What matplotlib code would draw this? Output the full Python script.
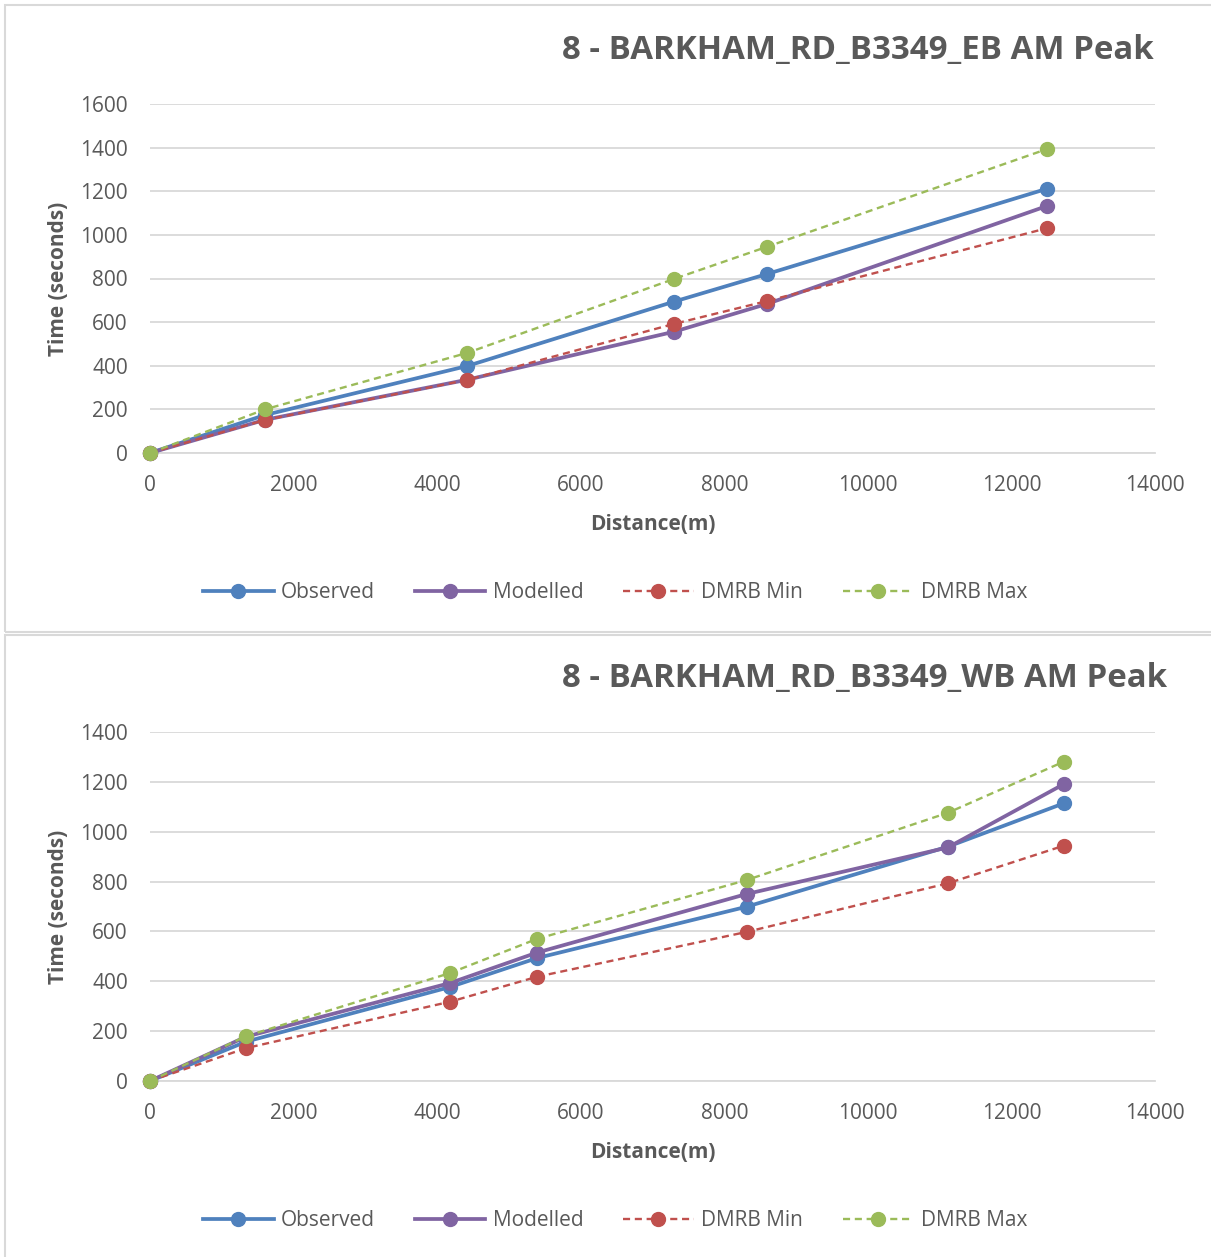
# Journey time comparison - Barkham Rd B3349, AM peak
import numpy as np
import matplotlib.pyplot as plt
from matplotlib.patches import Rectangle

# EB data
ebDist = [0, 1600, 4420, 7300, 8600, 12500]
ebObserved = [0, 174, 399, 694, 821, 1212]
ebModelled = [0, 152, 336, 556, 684, 1133]
ebMin = [0, 151, 335, 592, 697, 1031]
ebMax = [0, 200, 459, 798, 946, 1394]

# WB data
wbDist = [0, 1340, 4180, 5390, 8310, 11115, 12730]
wbObserved = [0, 158, 377, 493, 699, 940, 1114]
wbModelled = [0, 178, 393, 515, 750, 937, 1191]
wbMin = [0, 132, 318, 418, 598, 793, 944]
wbMax = [0, 180, 433, 570, 806, 1076, 1281]

titles = ["8 - BARKHAM_RD_B3349_EB AM Peak", "8 - BARKHAM_RD_B3349_WB AM Peak"]
seriesNames = ["Observed", "Modelled", "DMRB Min", "DMRB Max"]
colours = ["#4F81BD", "#8064A2", "#C0504D", "#9BBB59"]

plt.rcParams['font.family'] = ['Open Sans', 'DejaVu Sans']
textCol = "#595959"
W, H = 1211, 1257

fig = plt.figure(figsize=(W/100, H/100), dpi=100)

# chart borders
fig.patches.append(Rectangle((5/W, 1-632/H), 1.2, 627/H, transform=fig.transFigure,
                             fill=False, edgecolor="#d9d9d9", lw=1.5))
fig.patches.append(Rectangle((5/W, -0.1), 1.2, 0.1+(1-635/H), transform=fig.transFigure,
                             fill=False, edgecolor="#d9d9d9", lw=1.5))

panels = [
    dict(rect=[150/W, 1-453/H, 1005/W, 349/H], ymax=1600, titleY=51, legY=593,
         x=ebDist, data=[ebObserved, ebModelled, ebMin, ebMax], title=titles[0]),
    dict(rect=[150/W, 1-1081/H, 1005/W, 349/H], ymax=1400, titleY=679, legY=1221,
         x=wbDist, data=[wbObserved, wbModelled, wbMin, wbMax], title=titles[1]),
]

for p in panels:
    ax = fig.add_axes(p["rect"])
    for i in range(4):
        if i < 2:
            ax.plot(p["x"], p["data"][i], '-', color=colours[i], lw=2.7, marker='o',
                    markersize=10, label=seriesNames[i], zorder=3, clip_on=False)
        else:
            ax.plot(p["x"], p["data"][i], '--', color=colours[i], lw=1.7, dashes=(3, 2),
                    marker='o', markersize=10, label=seriesNames[i], zorder=3, clip_on=False)
    ax.set_xlim(0, 14000)
    ax.set_ylim(0, p["ymax"])
    ax.set_xticks(np.arange(0, 14001, 2000))
    ax.set_yticks(np.arange(0, p["ymax"]+1, 200))
    ax.grid(axis='y', color="#d9d9d9", lw=1.3)
    ax.set_axisbelow(True)
    for s in ["top", "right", "left"]:
        ax.spines[s].set_visible(False)
    ax.spines["bottom"].set_color("#d9d9d9")
    ax.spines["bottom"].set_linewidth(1.3)
    ax.tick_params(length=0, labelsize=15, labelcolor=textCol, pad=16)
    ax.set_xlabel("Distance(m)", fontsize=15, fontweight='bold', color=textCol, labelpad=13)
    ax.set_ylabel("Time (seconds)", fontsize=15, fontweight='bold', color=textCol, labelpad=8)
    fig.text(562/W, 1-p["titleY"]/H, p["title"], ha='left', va='center', fontsize=23.8,
             fontweight='bold', color=textCol)
    leg = ax.legend(loc='center', bbox_to_anchor=(615/W, 1-p["legY"]/H),
                    bbox_transform=fig.transFigure, ncol=4, frameon=False, fontsize=15,
                    handlelength=3.4, columnspacing=1.9, handletextpad=0.35)
    for t in leg.get_texts():
        t.set_color(textCol)

fig.savefig("out.png", dpi=100)
